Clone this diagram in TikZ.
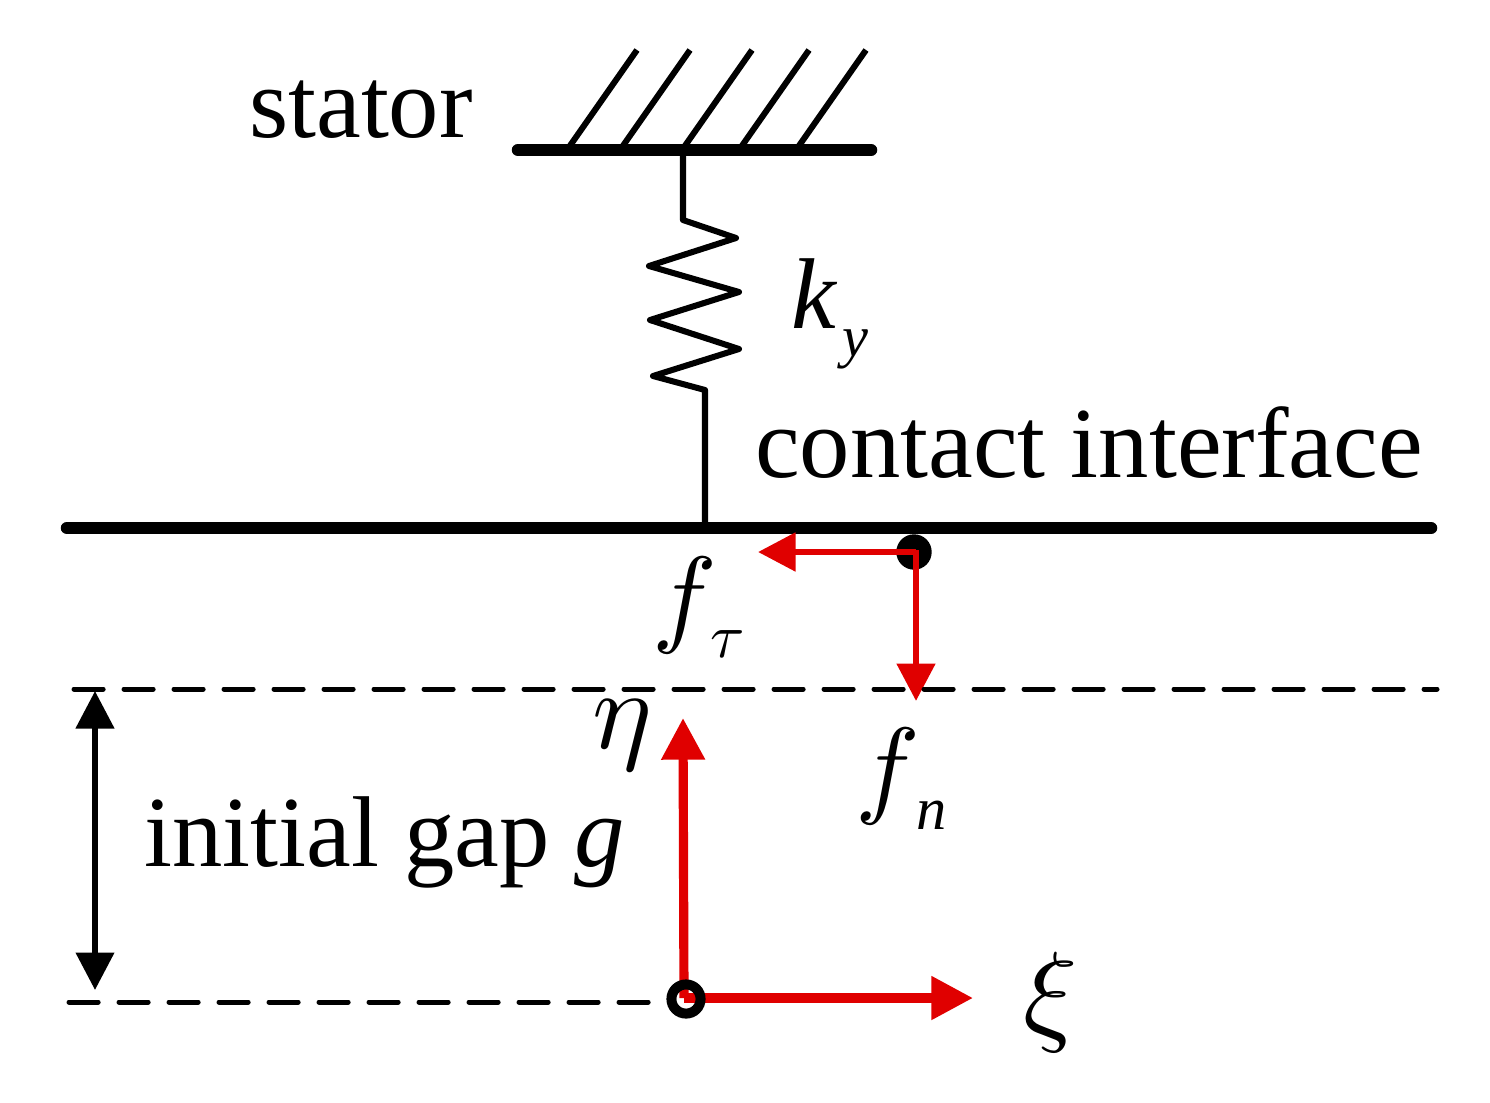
\documentclass[tikz,border=0pt]{standalone}
\usepackage{graphicx}
\usepackage{fontspec}
\setmainfont{Liberation Serif}
\usetikzlibrary{arrows.meta}
\definecolor{cred}{RGB}{224,0,0}
\newcommand{\symb}[2]{\scalebox{#1}{\normalsize$#2$}}
\tikzset{>=Stealth}
\tikzset{
lbl/.style={inner sep=0pt, font=\fontsize{48.3}{48}\selectfont},
bar/.style={line width=6pt, line cap=round},
thin line/.style={line width=2.9pt},
dash line/.style={line width=2.4pt, line cap=round, dash pattern=on 14pt off 10pt},
small red/.style={cred, line width=3.2pt, -{Triangle[length=18pt,width=18pt]}},
big red/.style={cred, line width=4.4pt, -{Triangle[length=20pt,width=20pt]}},
}
\begin{document}
\begin{tikzpicture}[x=0.48pt,y=-0.48pt]
\useasboundingbox (0,0) rectangle (1490,1102);
% stator
\draw[bar] (518,150) -- (871,150);
\foreach \x in {567,620,682,739,796}
\draw[line width=2.9pt] (\x,150) -- (\x+70,50);
\node[lbl, anchor=base] (stator) at (361,137) {stator};
% spring
\coordinate (s0) at (683,150);
\coordinate (s1) at (705,524);
\draw[thin line, line join=round] (s0) -- (683,220) -- (736,238) -- (649,266) -- (739,292) -- (650,320) -- (739,349) -- (653,376) -- (705,390) -- (s1);
\node[lbl, anchor=base west] (ky) at (791,328) {\itshape k};
\node[lbl, anchor=base west] (kysub) at (842,356) {\fontsize{28}{28}\selectfont\itshape y};
% contact
\node[lbl, anchor=base] (contact) at (1089,477) {contact interface};
\draw[bar] (67,528) -- (1431,528);
\node[circle, fill=black, minimum size=17pt, inner sep=0pt] (pt) at (914,552) {};
\coordinate (ftip) at (758,552);
\coordinate (ntip) at (916,701);
\draw[small red] (916,552) -- (ftip);
\draw[small red] (916,550) -- (ntip);
\node[lbl, anchor=base west] (ftau) at (652,632) {\symb{5.2}{f}};
\node[lbl, anchor=base west] (ftausub) at (710,657) {\symb{3}{\tau}};
\node[lbl, anchor=base west] (fn) at (855,803) {\symb{5.2}{f}};
\node[lbl, anchor=base west] (fnsub) at (916,829) {\fontsize{29}{29}\selectfont\itshape n};
% gap
\coordinate (d1a) at (74,689);
\coordinate (d1b) at (1437,689);
\coordinate (d2a) at (69,1002);
\coordinate (d2b) at (652,1002);
\draw[dash line] (d1a) -- (d1b);
\draw[dash line] (d2a) -- (d2b);
\coordinate (g1) at (95,691);
\coordinate (g2) at (95,990);
\draw[line width=2.9pt, {Triangle[length=18pt,width=18pt]}-{Triangle[length=18pt,width=18pt]}] (g1) -- (g2);
\node[lbl, anchor=base west] (gap) at (144,866) {initial gap \itshape g};
% axes
\coordinate (o) at (684,998);
\coordinate (etatip) at (683,718);
\coordinate (xitip) at (973,998);
\draw[big red] (o) -- (etatip);
\draw[big red] (o) -- (xitip);
\node[circle, draw=black, line width=4.8pt, minimum size=14pt, inner sep=0pt] (org) at (686,999) {};
\node[lbl, anchor=base west] (eta) at (592,748) {\symb{5.4}{\eta}};
\node[lbl, anchor=base west] (xi) at (1023,1030) {\symb{5.4}{\xi}};
\end{tikzpicture}
\end{document}
